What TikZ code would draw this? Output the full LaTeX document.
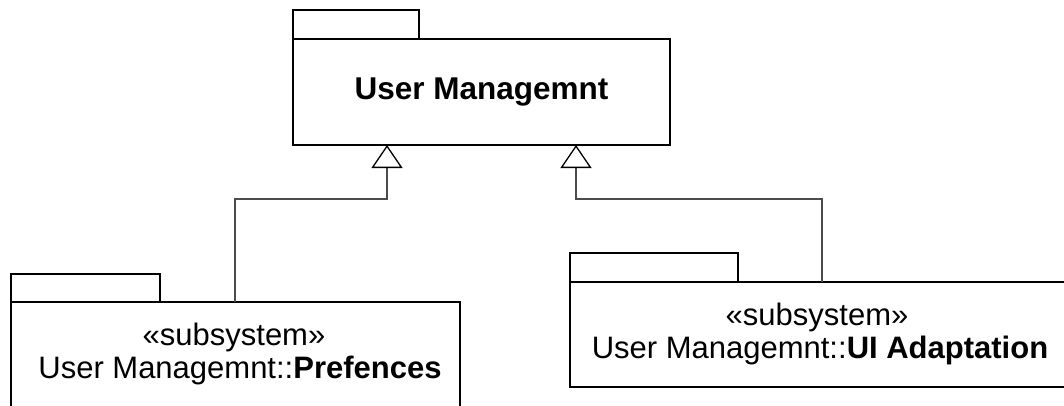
\documentclass[tikz,border=0pt]{standalone}
\usepackage{fontspec}
\setmainfont{Liberation Sans}
\usetikzlibrary{arrows.meta}
\begin{document}
\begin{tikzpicture}[x=1pt,y=-1pt,
  pkg/.style={draw=black, line width=1.4pt, fill=white, inner sep=0pt, outer sep=0pt},
  pkgtab/.style={pkg, anchor=south west},
  pkgbody/.style={pkg, anchor=north west},
  title/.style={font=\bfseries\fontsize{31.5}{36}\selectfont},
  label/.style={anchor=base, inner sep=0pt, font=\fontsize{31}{33}\selectfont},
  gen/.style={draw=black!70, line width=1.3pt,
    -{Triangle[open, length=23pt, width=31pt, line width=1.3pt, color=black]}},
]
\useasboundingbox (0,0) rectangle (1064,405);
\clip (0,0) rectangle (1064,405);

% parent package
\node[pkgtab, minimum width=126pt, minimum height=29pt] (umtab) at (293,39) {};
\node[pkgbody, minimum width=377pt, minimum height=106pt, title] (um) at (293,39) {User Managemnt};

% subsystem: preferences
\node[pkgtab, minimum width=149pt, minimum height=28pt] (preftab) at (11,302) {};
\node[pkgbody, minimum width=449pt, minimum height=140pt] (pref) at (11,302) {};
\node[label] (pref1) at (234,345) {«subsystem»};
\node[label] (pref2) at (240,378) {User Managemnt::\textbf{Prefences}};

% subsystem: UI adaptation
\node[pkgtab, minimum width=168pt, minimum height=29pt] (uitab) at (570,282) {};
\node[pkgbody, minimum width=510pt, minimum height=105pt] (ui) at (570,282) {};
\node[label] (ui1) at (817,325) {«subsystem»};
\node[label] (ui2) at (820,358) {User Managemnt::\textbf{UI Adaptation}};

% attachment points of the generalisations
\coordinate (umL) at (387,145);
\coordinate (umR) at (576,145);
\coordinate (prefT) at (235,302);
\coordinate (uiT) at (822,282);

\draw[gen] (prefT) -- (235,199) -| (umL);
\draw[gen] (uiT) -- (822,199) -| (umR);
\end{tikzpicture}
\end{document}
